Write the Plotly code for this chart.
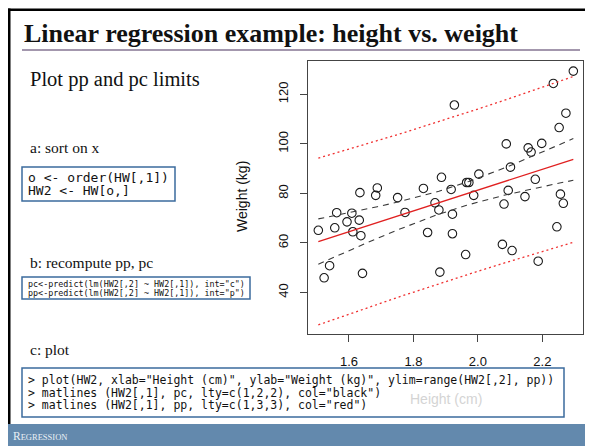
import numpy as np
import plotly.graph_objects as go

# ---- data ----
height_m = [1.505, 1.523, 1.540, 1.556, 1.562, 1.594, 1.609, 1.612, 1.632, 1.634,
            1.637, 1.642, 1.683, 1.688, 1.751, 1.774, 1.831, 1.844, 1.867, 1.879,
            1.882, 1.887, 1.917, 1.921, 1.921, 1.927, 1.962, 1.965, 1.972, 1.987,
            2.003, 2.076, 2.081, 2.088, 2.094, 2.101, 2.106, 2.146, 2.156, 2.165,
            2.178, 2.187, 2.198, 2.234, 2.245, 2.252, 2.256, 2.265, 2.273, 2.296]
weight_kg = [65.1, 45.9, 50.8, 66.1, 72.2, 68.5, 72.0, 64.5, 69.2, 80.3,
             62.9, 47.7, 79.2, 82.2, 78.3, 72.3, 82.0, 64.2, 76.2, 73.3,
             48.2, 86.5, 81.6, 71.6, 63.7, 115.7, 55.3, 84.4, 84.4, 79.2,
             87.8, 59.4, 75.7, 100.0, 81.2, 90.6, 56.9, 78.7, 98.4, 96.7,
             85.7, 52.6, 100.2, 124.4, 66.5, 106.6, 79.7, 76.0, 112.4, 129.4]
x_ticks = [1.6, 1.8, 2.0, 2.2]
x_tick_labels = ["1.6", "1.8", "2.0", "2.2"]
y_ticks = [40, 60, 80, 100, 120]
y_tick_labels = ["40", "60", "80", "100", "120"]

# ---- HW2 <- HW[order(HW[,1]),]; pc / pp from lm (as in the R code) ----
x = np.array(height_m)
y = np.array(weight_kg)
o = np.argsort(x, kind="stable")
x, y = x[o], y[o]
n = len(x)
b1, b0 = np.polyfit(x, y, 1)
fit = b0 + b1 * x
s = np.sqrt(np.sum((y - fit) ** 2) / (n - 2))
sxx = np.sum((x - x.mean()) ** 2)
tq = 2.0106  # t(0.975, 48)
se_c = s * np.sqrt(1.0 / n + (x - x.mean()) ** 2 / sxx)
se_p = s * np.sqrt(1.0 + 1.0 / n + (x - x.mean()) ** 2 / sxx)

W, H = 593, 446
OFF = 8  # page body margin
def X(px):
    return (px - OFF) / W
def Y(py):
    return 1 - (py - OFF) / H

fig = go.Figure()
lc = "#3a3a3a"
fig.add_trace(go.Scatter(x=x, y=y, mode="markers",
                         marker=dict(symbol="circle-open", size=8.5, color="#1a1a1a",
                                     line=dict(width=1.1, color="#1a1a1a")),
                         hoverinfo="skip"))
fig.add_trace(go.Scatter(x=x, y=fit + tq * se_c, mode="lines",
                         line=dict(color=lc, width=1.1, dash="6px,5px")))
fig.add_trace(go.Scatter(x=x, y=fit - tq * se_c, mode="lines",
                         line=dict(color=lc, width=1.1, dash="6px,5px")))
fig.add_trace(go.Scatter(x=x, y=fit + tq * se_p, mode="lines",
                         line=dict(color="#f03030", width=1.3, dash="2px,3px")))
fig.add_trace(go.Scatter(x=x, y=fit - tq * se_p, mode="lines",
                         line=dict(color="#f03030", width=1.3, dash="2px,3px")))
fig.add_trace(go.Scatter(x=x, y=fit, mode="lines",
                         line=dict(color="#e02020", width=1.3)))

axfont = dict(family="Liberation Sans, Arial, sans-serif", size=13, color="#111")
fig.update_layout(
    width=W, height=H, margin=dict(l=0, r=0, t=0, b=0),
    paper_bgcolor="white", plot_bgcolor="white", showlegend=False,
    xaxis=dict(domain=[X(308), X(583)], range=[1.473, 2.326],
               showline=True, mirror=True, linecolor="#444", linewidth=1,
               ticks="outside", ticklen=7, tickcolor="#444", tickwidth=1,
               tickvals=x_ticks, ticktext=x_tick_labels, tickfont=axfont,
               showgrid=False, zeroline=False, ticklabelstandoff=8),
    yaxis=dict(domain=[Y(334), Y(60.7)], range=[23.2, 133.6],
               showline=True, mirror=True, linecolor="#444", linewidth=1,
               ticks="outside", ticklen=7, tickcolor="#444", tickwidth=1,
               tickvals=y_ticks, ticktext=y_tick_labels, tickfont=axfont,
               tickangle=-90, showgrid=False, zeroline=False, ticklabelstandoff=7),
)

shapes = []
def rect(x0, y0, x1, y1, fill=None, line=None, lw=0):
    d = dict(type="rect", xref="paper", yref="paper",
             x0=X(x0), x1=X(x1), y0=Y(y1), y1=Y(y0), layer="above")
    d["fillcolor"] = fill if fill else "rgba(0,0,0,0)"
    d["line"] = dict(color=line if line else "rgba(0,0,0,0)", width=lw)
    return d

shapes.append(rect(8, 8.5, 601, 11, fill="#000"))
shapes.append(rect(8, 8.5, 10.5, 424, fill="#000"))
shapes.append(dict(type="line", xref="paper", yref="paper",
                   x0=X(22), x1=X(580), y0=Y(50), y1=Y(50),
                   line=dict(color="#a397ad", width=2)))
box_col = "#3b6b9d"
shapes.append(rect(22, 167, 175, 201, line=box_col, lw=1.5))
shapes.append(rect(22, 277, 250, 299, line=box_col, lw=1.5))
shapes.append(rect(22, 368, 564, 417, line=box_col, lw=1.5))
shapes.append(rect(8, 424, 601, 460, fill="#6389ad"))
fig.update_layout(shapes=shapes)

serif = "Liberation Serif, Times New Roman, serif"
mono = "DejaVu Sans Mono, monospace"
ann = []
def txt(t, px, py, size, family, color="#111", xanchor="left", angle=0):
    ann.append(dict(text=t, x=X(px), y=Y(py), xref="paper", yref="paper",
                    xanchor=xanchor, yanchor="middle", showarrow=False,
                    textangle=angle, font=dict(family=family, size=size, color=color)))

txt("<b>Linear regression example: height vs. weight</b>", 22, 34, 26, serif)
txt("Plot pp and pc limits", 28, 79, 20.5, serif)
txt("a: sort on x", 28, 147, 15.5, serif)
txt("o &lt;- order(HW[,1])", 26, 177.5, 13, mono)
txt("HW2 &lt;- HW[o,]", 26, 190.5, 13, mono)
txt("b: recompute pp, pc", 28, 262, 15.5, serif)
txt("pc&lt;-predict(lm(HW2[,2] ~ HW2[,1]), int=\"c\")", 26, 284, 8.4, mono)
txt("pp&lt;-predict(lm(HW2[,2] ~ HW2[,1]), int=\"p\")", 26, 292.5, 8.4, mono)
txt("c: plot", 28, 349, 15.5, serif)
txt("&gt; plot(HW2, xlab=\"Height (cm)\", ylab=\"Weight (kg)\", ylim=range(HW2[,2], pp))",
    26, 380, 11.5, mono)
txt("&gt; matlines (HW2[,1], pc, lty=c(1,2,2), col=\"black\")", 26, 392.5, 11.5, mono)
txt("&gt; matlines (HW2[,1], pp, lty=c(1,3,3), col=\"red\")", 26, 405, 11.5, mono)
txt("Height (cm)", 446, 399, 14, "Liberation Sans, Arial, sans-serif",
    color="#d4d4d4", xanchor="center")
txt("Weight (kg)", 242, 197, 14, "Liberation Sans, Arial, sans-serif",
    xanchor="center", angle=-90)
txt("R<span style=\"font-size:8.5px\">EGRESSION</span>", 11, 436, 11.5, serif,
    color="#eaf0f5")
fig.update_layout(annotations=ann)

fig.write_html("out.html")
